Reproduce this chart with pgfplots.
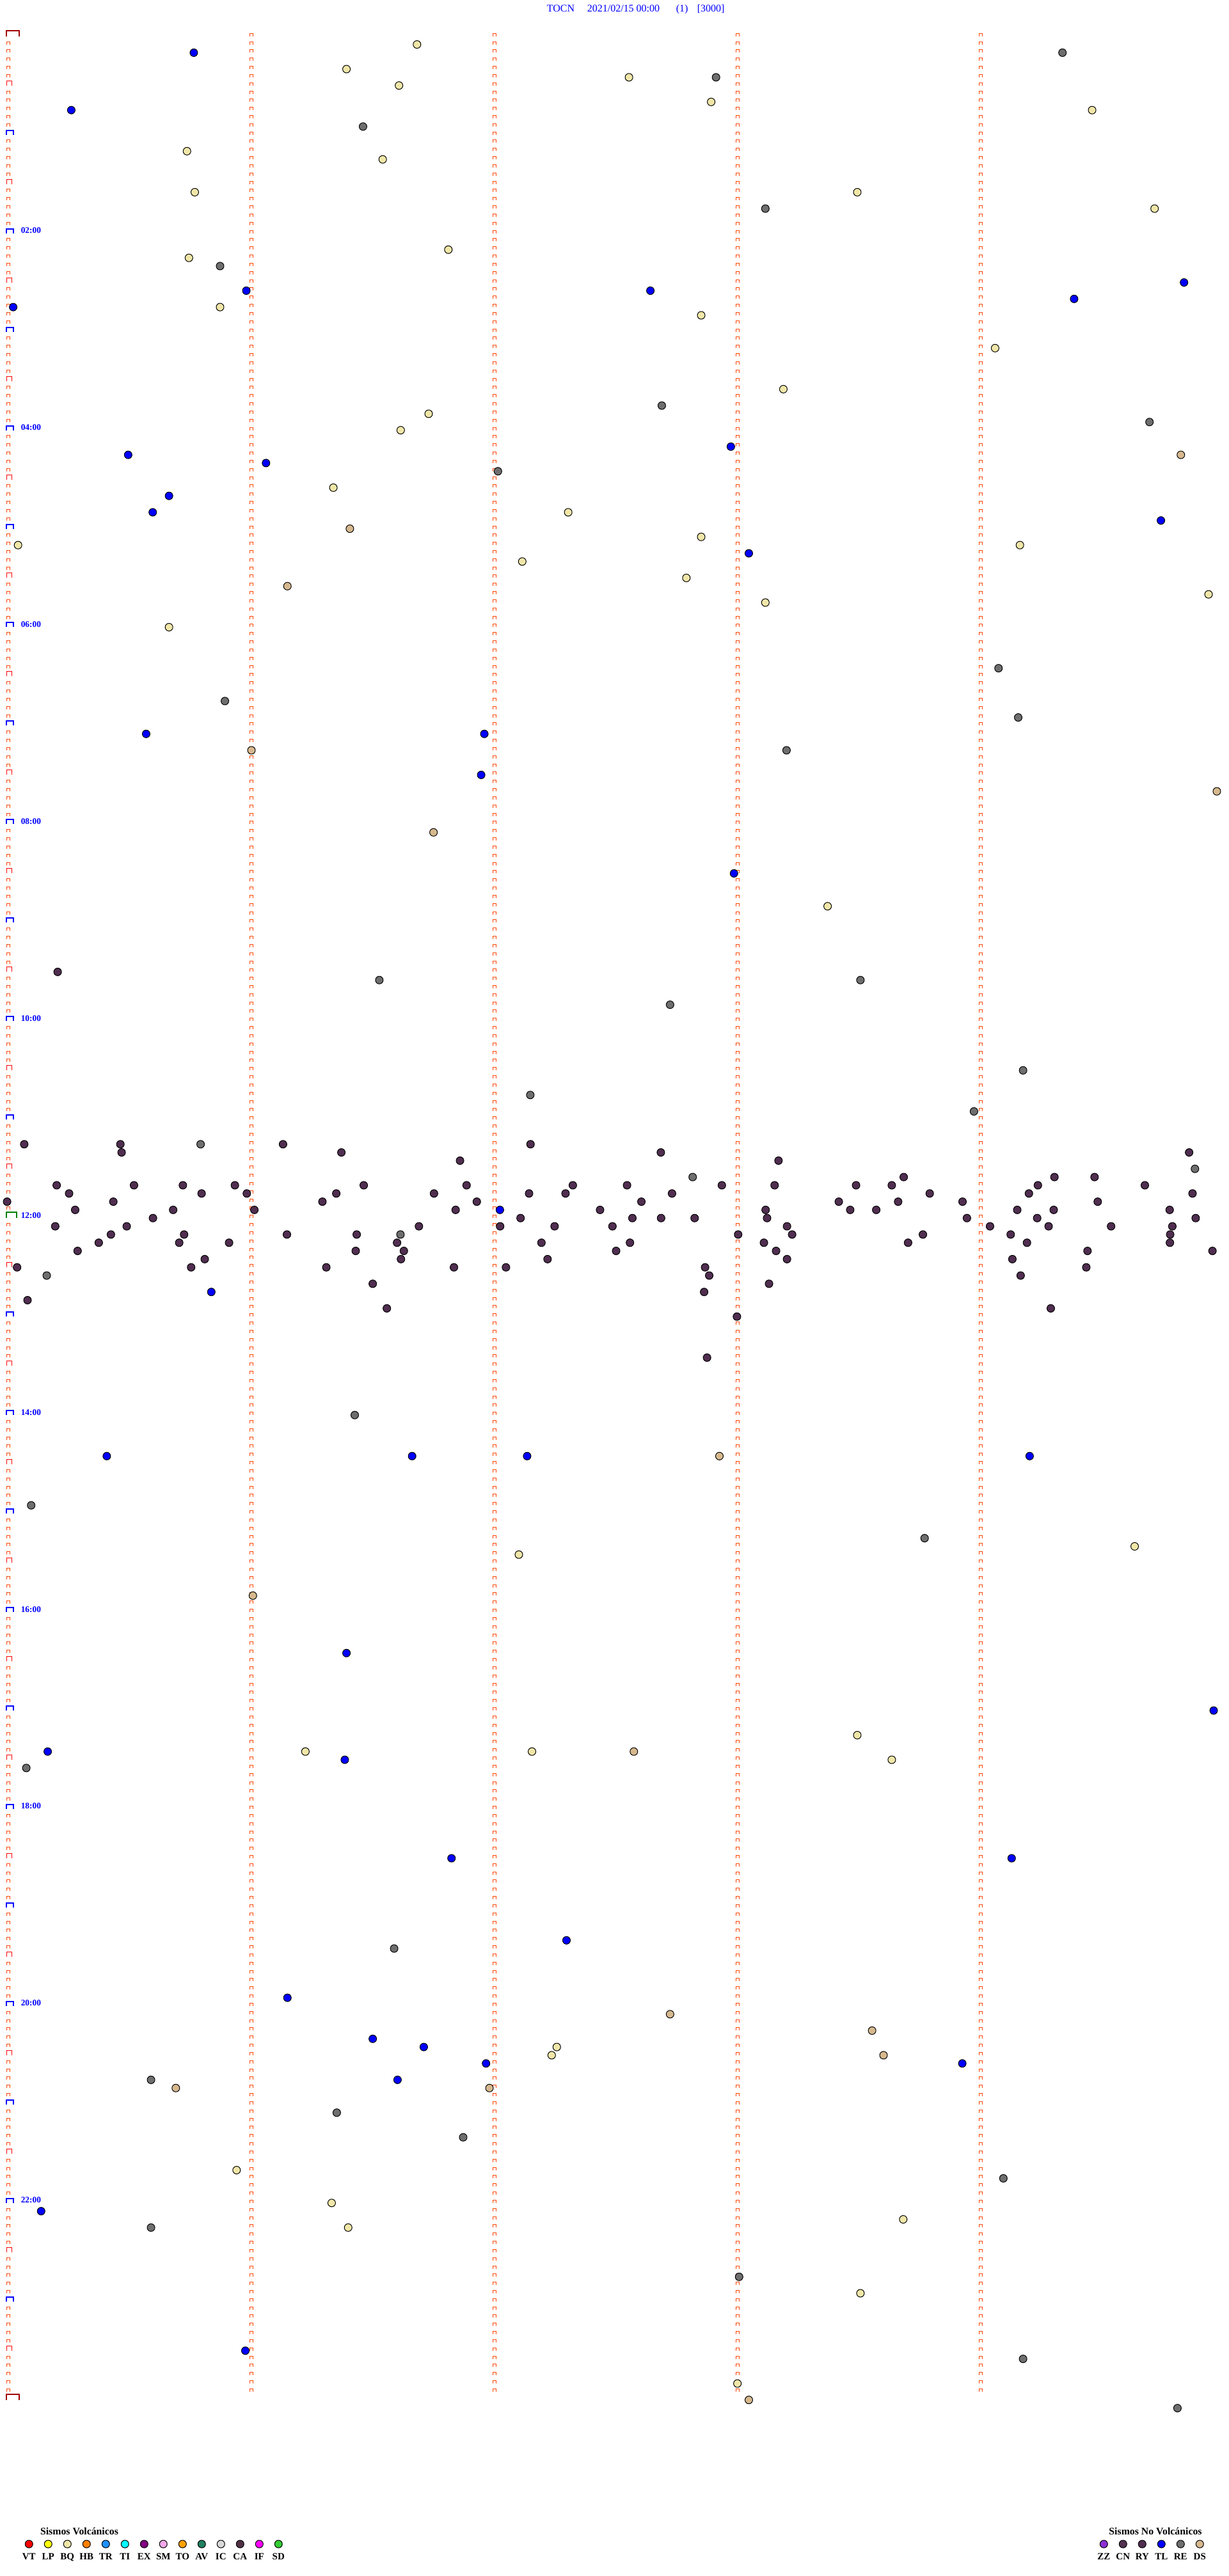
\documentclass[border=0pt]{standalone}
\usepackage{fontspec}
\setmainfont{Liberation Serif}
\usepackage{pgfplots}
\pgfplotsset{compat=1.18}

\definecolor{trace}{RGB}{255,69,0}
\definecolor{hbr}{RGB}{255,0,0}
\definecolor{dbr}{RGB}{160,0,0}
\definecolor{gbr}{RGB}{0,128,0}
\definecolor{cVT}{RGB}{255,0,0}
\definecolor{cLP}{RGB}{255,255,0}
\definecolor{cBQ}{RGB}{240,230,168}
\definecolor{cHB}{RGB}{255,128,0}
\definecolor{cTR}{RGB}{30,144,255}
\definecolor{cTI}{RGB}{0,255,255}
\definecolor{cEX}{RGB}{128,0,128}
\definecolor{cSM}{RGB}{240,168,232}
\definecolor{cTO}{RGB}{255,160,0}
\definecolor{cAV}{RGB}{32,128,96}
\definecolor{cIC}{RGB}{216,216,216}
\definecolor{cCA}{RGB}{80,48,72}
\definecolor{cIF}{RGB}{255,0,255}
\definecolor{cSD}{RGB}{51,204,51}
\definecolor{cZZ}{RGB}{140,48,210}
\definecolor{cCN}{RGB}{82,50,82}
\definecolor{cRY}{RGB}{80,46,80}
\definecolor{cTL}{RGB}{0,0,255}
\definecolor{cRE}{RGB}{110,110,110}
\definecolor{cDS}{RGB}{214,184,142}

\pgfdeclareplotmark{brhalf}{%
  \pgfpathmoveto{\pgfqpoint{-0.625pt}{0pt}}\pgfpathlineto{\pgfqpoint{-0.625pt}{1.875pt}}%
  \pgfpathlineto{\pgfqpoint{1.375pt}{1.875pt}}\pgfpathlineto{\pgfqpoint{1.375pt}{0pt}}\pgfusepathqstroke}
\pgfdeclareplotmark{brhour}{%
  \pgfpathmoveto{\pgfqpoint{-0.875pt}{0pt}}\pgfpathlineto{\pgfqpoint{-0.875pt}{1.75pt}}%
  \pgfpathlineto{\pgfqpoint{1.875pt}{1.75pt}}\pgfpathlineto{\pgfqpoint{1.875pt}{0pt}}\pgfusepathqstroke}
\pgfdeclareplotmark{brnoon}{%
  \pgfpathmoveto{\pgfqpoint{-0.875pt}{0pt}}\pgfpathlineto{\pgfqpoint{-0.875pt}{2.25pt}}%
  \pgfpathlineto{\pgfqpoint{3.125pt}{2.25pt}}\pgfpathlineto{\pgfqpoint{3.125pt}{0pt}}\pgfusepathqstroke}
\pgfdeclareplotmark{brday}{%
  \pgfpathmoveto{\pgfqpoint{-0.875pt}{0pt}}\pgfpathlineto{\pgfqpoint{-0.875pt}{2.25pt}}%
  \pgfpathlineto{\pgfqpoint{4.25pt}{2.25pt}}\pgfpathlineto{\pgfqpoint{4.25pt}{0pt}}\pgfusepathqstroke}

\pgfplotsset{
  ev/.style={only marks, mark=*, mark size=1.5pt, mark options={draw=black, line width=0.25pt, fill=#1}},
  colA/.style={trace, line width=1.5pt, dash pattern=on 1.25pt off 1.9575pt},
  colB/.style={white, line width=1pt, dash pattern=on 1pt off 2.2075pt},
}

\begin{document}
\begin{tikzpicture}
\begin{axis}[
  scale only axis, width=480pt, height=1006.75pt,
  xmin=-0.034211, xmax=5.018421,
  ymin=-22.097, ymax=1547.2865,
  y dir=reverse,
  clip=false,
  axis line style={draw=none},
  major tick style={draw=none}, minor tick style={draw=none},
  major tick length=0pt,
  xtick=\empty,
  ytick={120,240,360,480,600,720,840,960,1080,1200,1320},
  yticklabels={02:00,04:00,06:00,08:00,10:00,12:00,14:00,16:00,18:00,20:00,22:00},
  yticklabel style={anchor=base west, xshift=8pt, inner sep=0pt,
    font=\fontsize{3.35}{4}\selectfont\bfseries, text=blue},
]
\path (rel axis cs:0,0) rectangle (rel axis cs:1,1);

% seismogram trace columns (flat trace with minute marks)
\addplot[colA] coordinates {(1,-1.9486) (1,1435.2)};
\addplot[colA] coordinates {(2,-1.9486) (2,1435.2)};
\addplot[colA] coordinates {(3,-1.9486) (3,1435.2)};
\addplot[colA] coordinates {(4,-1.9486) (4,1435.2)};
\addplot[colB] coordinates {(1,-1.5588) (1,1435.2)};
\addplot[colB] coordinates {(2,-1.5588) (2,1435.2)};
\addplot[colB] coordinates {(3,-1.5588) (3,1435.2)};
\addplot[colB] coordinates {(4,-1.5588) (4,1435.2)};
\addplot[trace, line width=1.5pt, dash pattern=on 1.25pt off 1.9575pt on 1.25pt off 1.9575pt on 1.25pt off 1.9575pt on 1.25pt off 1.9575pt on 1.25pt off 5.165pt] coordinates {(0,3.0514) (0,1435.2)};
\addplot[white, line width=1pt, dash pattern=on 1pt off 2.2075pt on 1pt off 2.2075pt on 1pt off 2.2075pt on 1pt off 2.2075pt on 1pt off 5.415pt] coordinates {(0,3.4412) (0,1435.2)};

% time brackets
\addplot[only marks, mark=brhalf, mark options={hbr, line width=0.25pt}] coordinates {
(0,30) (0,90) (0,150) (0,210) (0,270) (0,330) (0,390) (0,450) (0,510) (0,570) (0,630) (0,690)
(0,750) (0,810) (0,870) (0,930) (0,990) (0,1050) (0,1110) (0,1170) (0,1230) (0,1290) (0,1350) (0,1410)};
\addplot[only marks, mark=brhour, mark options={blue, line width=0.5pt}] coordinates {
(0,60) (0,120) (0,180) (0,240) (0,300) (0,360) (0,420) (0,480) (0,540) (0,600) (0,660)
(0,780) (0,840) (0,900) (0,960) (0,1020) (0,1080) (0,1140) (0,1200) (0,1260) (0,1320) (0,1380)};
\addplot[only marks, mark=brnoon, mark options={gbr, line width=0.5pt}] coordinates {(0,720)};
\addplot[only marks, mark=brday, mark options={dbr, line width=0.5pt}] coordinates {(0,0) (0,1440)};

% events: BQ
\addplot[ev=cBQ] coordinates {
(1.681,5) (1.391,20) (1.607,30) (2.553,25) (2.891,40) (4.458,45) (0.735,70) (1.540,75)
(0.767,95) (3.492,95) (4.715,105) (1.810,130) (0.743,135) (0.871,165) (2.850,170) (4.059,190)
(3.188,215) (1.729,230) (1.614,240) (1.337,275) (2.303,290) (2.850,305) (0.040,310) (4.161,310)
(2.114,320) (2.789,330) (3.114,345) (4.937,340) (0.661,360) (3.370,530)
(2.100,925) (4.633,920) (1.222,1045) (2.154,1045) (3.492,1035) (3.634,1050) (2.256,1225)
(2.235,1230) (0.939,1300) (1.330,1320) (1.398,1335) (3.681,1330) (3.505,1375) (2.999,1430)};
% events: DS
\addplot[ev=cDS] coordinates {
(4.823,255) (1.405,300) (1.148,335) (1.000,435) (4.971,460) (1.749,485)
(2.925,865) (1.006,950) (2.573,1045) (2.722,1205) (3.553,1215) (3.600,1230) (0.689,1250)
(1.979,1250) (3.046,1440)};
% events: RE
\addplot[ev=cRE] coordinates {
(4.336,10) (2.911,25) (1.459,55) (3.114,105) (0.871,140) (2.688,225) (4.694,235) (2.014,265)
(4.073,385) (0.891,405) (4.154,415) (3.201,435) (1.526,575) (3.505,575) (2.722,590) (4.174,630)
(2.147,645) (3.972,655) (0.791,675) (1.613,730) (0.158,755) (2.815,695) (4.881,690)
(1.425,840) (0.094,895) (3.769,915) (0.074,1055) (1.587,1165) (0.587,1245) (1.351,1265)
(1.871,1280) (4.093,1305) (0.587,1335) (3.006,1365) (4.174,1415) (4.809,1445)};
% events: TL
\addplot[ev=cTL] coordinates {
(0.763,10) (0.259,45) (0.979,155) (0.020,165) (2.641,155) (4.384,160) (4.836,150) (0.493,255)
(1.060,260) (2.972,250) (0.661,280) (0.594,290) (4.741,295) (3.046,315) (0.567,425) (1.958,425)
(1.945,450) (2.985,510) (0.835,765) (2.022,715)
(0.405,865) (1.661,865) (2.134,865) (4.201,865) (1.391,985) (4.958,1020) (0.162,1045)
(1.384,1050) (1.823,1110) (4.127,1110) (2.296,1160) (1.148,1195) (1.499,1220) (1.709,1225)
(1.965,1235) (3.924,1235) (1.601,1245) (0.135,1325) (0.975,1410)};
% events: RY (dark)
\addplot[ev=cRY] coordinates {
(0.203,570)
(0.0655,675) (0.461,675) (1.130,675) (0.466,680) (1.370,680) (0.199,700) (0.517,700) (0.718,700)
(0.932,700) (1.462,700) (0.250,705) (0.795,705) (0.981,705) (1.349,705) (-0.005,710) (0.432,710)
(1.292,710) (0.275,715) (0.678,715) (1.012,715) (0.595,720) (0.193,725) (0.487,725) (1.689,725)
(0.422,730) (0.723,730) (1.146,730) (1.433,730) (0.372,735) (0.703,735) (0.908,735) (1.599,735)
(0.285,740) (1.429,740) (1.627,740) (0.808,745) (1.615,745) (0.036,750) (0.752,750) (1.308,750)
(1.499,760) (0.079,770) (1.557,775)
(2.148,675) (2.684,680) (1.858,685) (3.168,685) (1.885,700) (2.322,700) (2.545,700) (2.935,700)
(3.152,700) (1.751,705) (2.142,705) (2.292,705) (2.730,705) (1.927,710) (2.604,710) (1.840,715)
(2.434,715) (3.115,715) (2.107,720) (2.567,720) (2.685,720) (2.823,720) (3.121,720) (2.023,725)
(2.247,725) (2.485,725) (3.203,725) (3.002,730) (3.224,730) (2.193,735) (2.557,735) (3.108,735)
(2.500,740) (3.158,740) (2.218,745) (3.203,745) (1.833,750) (2.047,750) (2.866,750) (2.883,755)
(3.129,760) (2.862,765) (2.997,780) (2.874,805)
(4.857,680) (3.683,695) (4.303,695) (4.468,695) (3.487,700) (3.634,700) (4.235,700) (4.675,700)
(3.790,705) (4.198,705) (4.871,705) (3.416,710) (3.660,710) (3.925,710) (4.481,710) (3.463,715)
(3.570,715) (4.150,715) (4.300,715) (4.777,715) (3.943,720) (4.232,720) (4.884,720) (4.038,725)
(4.279,725) (4.536,725) (4.788,725) (3.762,730) (4.123,730) (4.779,730) (3.701,735) (4.190,735)
(4.778,735) (4.439,740) (4.953,740) (4.130,745) (4.434,750) (4.164,755) (4.288,775)};

% legend symbols
\addplot[ev=cVT] coordinates {(0.0850,1527.8)};
\addplot[ev=cLP] coordinates {(0.1639,1527.8)};
\addplot[ev=cBQ] coordinates {(0.2429,1527.8)};
\addplot[ev=cHB] coordinates {(0.3218,1527.8)};
\addplot[ev=cTR] coordinates {(0.4008,1527.8)};
\addplot[ev=cTI] coordinates {(0.4797,1527.8)};
\addplot[ev=cEX] coordinates {(0.5587,1527.8)};
\addplot[ev=cSM] coordinates {(0.6376,1527.8)};
\addplot[ev=cTO] coordinates {(0.7166,1527.8)};
\addplot[ev=cAV] coordinates {(0.7955,1527.8)};
\addplot[ev=cIC] coordinates {(0.8745,1527.8)};
\addplot[ev=cCA] coordinates {(0.9534,1527.8)};
\addplot[ev=cIF] coordinates {(1.0324,1527.8)};
\addplot[ev=cSD] coordinates {(1.1113,1527.8)};
\addplot[ev=cZZ] coordinates {(4.5061,1527.8)};
\addplot[ev=cCN] coordinates {(4.5850,1527.8)};
\addplot[ev=cRY] coordinates {(4.6640,1527.8)};
\addplot[ev=cTL] coordinates {(4.7429,1527.8)};
\addplot[ev=cRE] coordinates {(4.8219,1527.8)};
\addplot[ev=cDS] coordinates {(4.9008,1527.8)};
\end{axis}

% title
\begin{scope}[every node/.style={anchor=base west, inner sep=0pt, text=blue, font=\fontsize{4}{5}\selectfont}]
\node at (213.5pt,1002.175pt) {TOCN};
\node at (229.25pt,1002.175pt) {2021/02/15 00:00};
\node at (264pt,1002.175pt) {(1)};
\node at (272.25pt,1002.175pt) {[3000]};
\end{scope}

% legend texts
\begin{scope}[every node/.style={anchor=base, inner sep=0pt, font=\fontsize{3.95}{4.5}\selectfont\bfseries}]
\node at (31pt,16.25pt) {Sismos Volcánicos};
\node at (451.5pt,16.25pt) {Sismos No Volcánicos};
\end{scope}
\begin{scope}[every node/.style={anchor=base, inner sep=0pt, font=\fontsize{3.75}{4.5}\selectfont\bfseries}]
\foreach \l [count=\i from 0] in {VT,LP,BQ,HB,TR,TI,EX,SM,TO,AV,IC,CA,IF,SD}
  \node at ({11.325pt+7.5pt*\i},6.325pt) {\l};
\foreach \l [count=\i from 0] in {ZZ,CN,RY,TL,RE,DS}
  \node at ({431.325pt+7.5pt*\i},6.325pt) {\l};
\end{scope}
\end{tikzpicture}
\end{document}
